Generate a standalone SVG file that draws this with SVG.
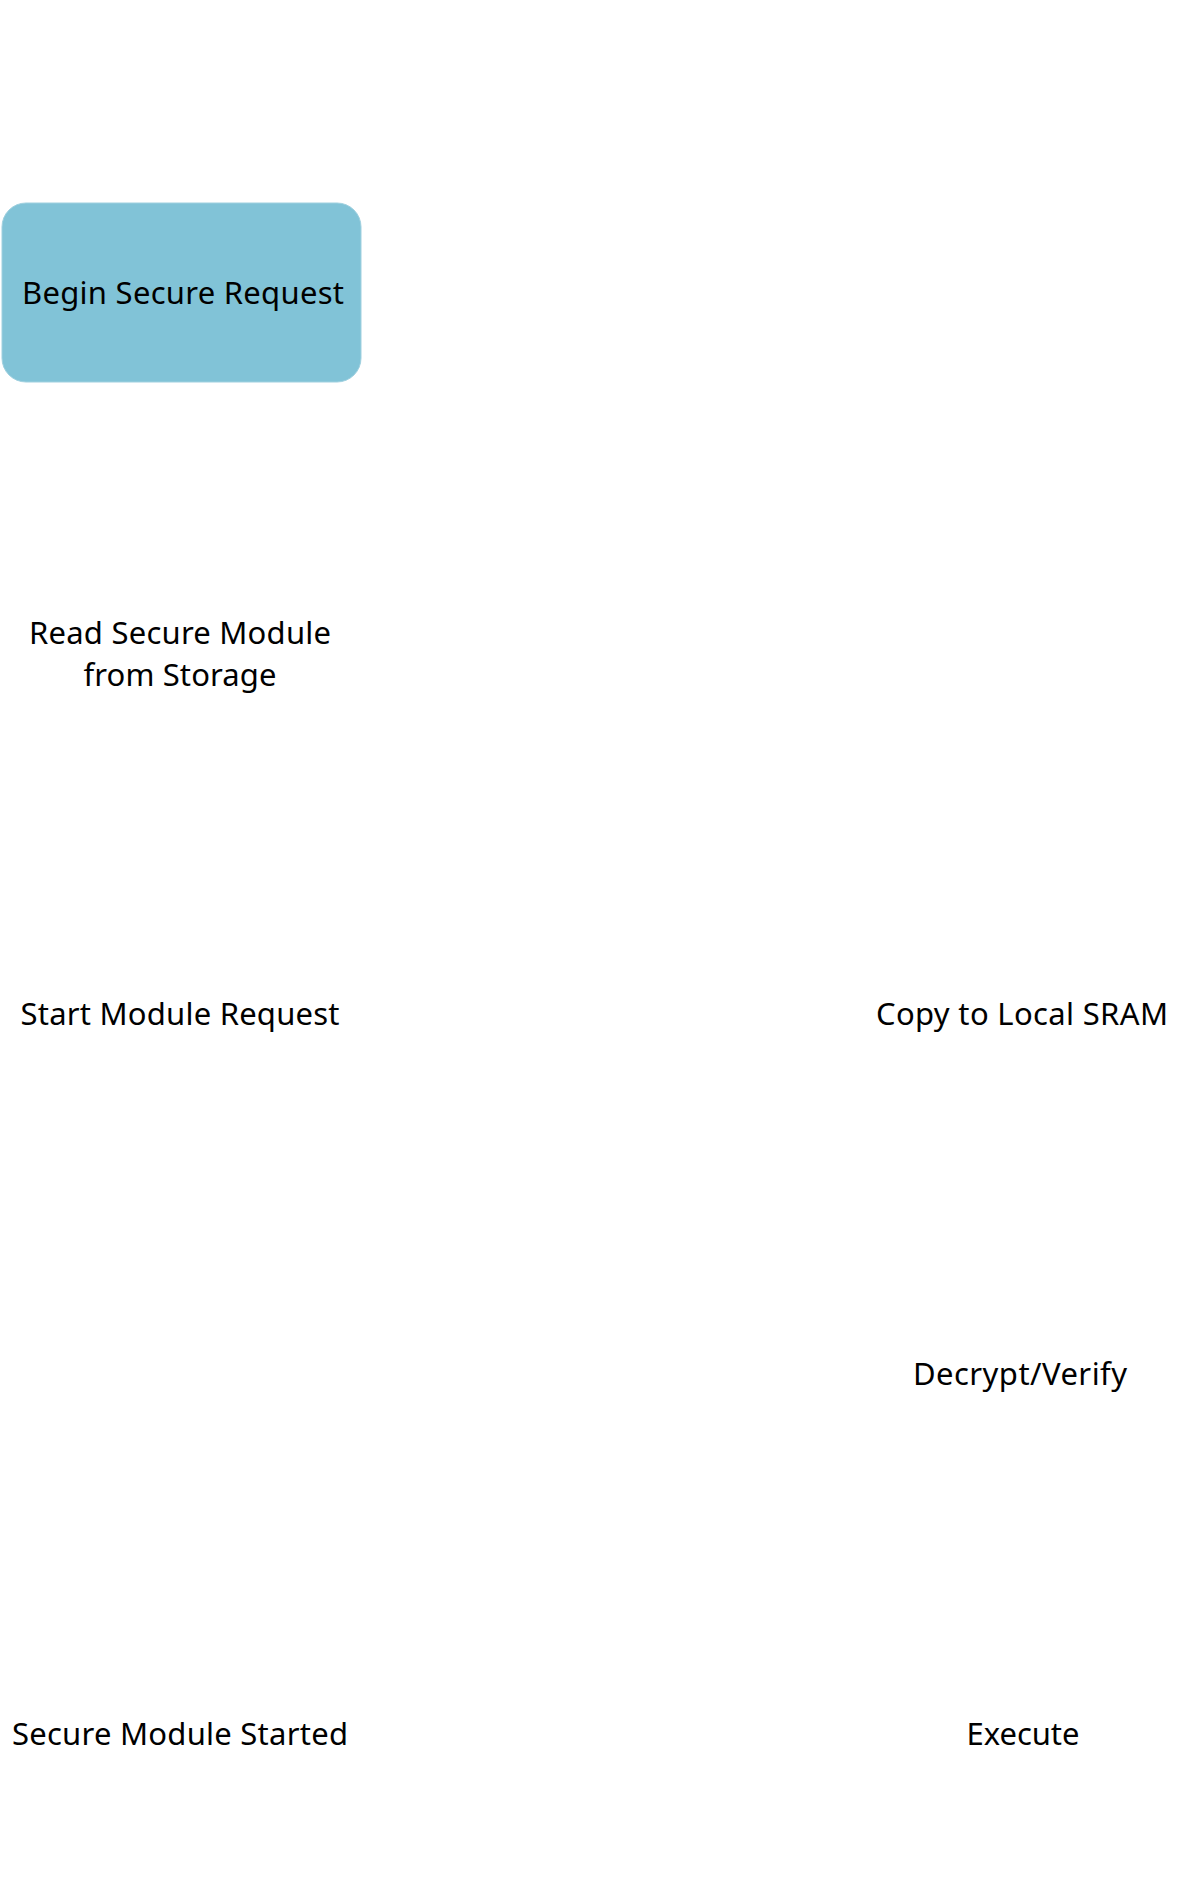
<svg xmlns="http://www.w3.org/2000/svg" width="1203" height="1890" viewBox="0 0 1203 1890">
<style>
.lbl{font-family:"Noto Sans","Open Sans","Liberation Sans",sans-serif;font-size:31px;fill:#000;text-anchor:middle}
.box{fill:#81c3d7;stroke:#9fd0df;stroke-width:1}
</style>
<rect x="0" y="0" width="1203" height="1890" fill="#fff"/>
<g id="connectors"></g>
<g id="begin"><rect class="box" x="2" y="203" width="359" height="179" rx="24"/><text class="lbl" x="183" y="304" textLength="322">Begin Secure Request</text></g>
<g id="read"><text class="lbl" x="180" y="644" textLength="302">Read Secure Module</text><text class="lbl" x="180" y="686" textLength="193">from Storage</text></g>
<g id="start"><text class="lbl" x="180" y="1025" textLength="319">Start Module Request</text></g>
<g id="copy"><text class="lbl" x="1022" y="1025" textLength="292">Copy to Local SRAM</text></g>
<g id="decrypt"><text class="lbl" x="1020" y="1385" textLength="214">Decrypt/Verify</text></g>
<g id="started"><text class="lbl" x="180" y="1745" textLength="336">Secure Module Started</text></g>
<g id="execute"><text class="lbl" x="1023" y="1745" textLength="113">Execute</text></g>
</svg>
